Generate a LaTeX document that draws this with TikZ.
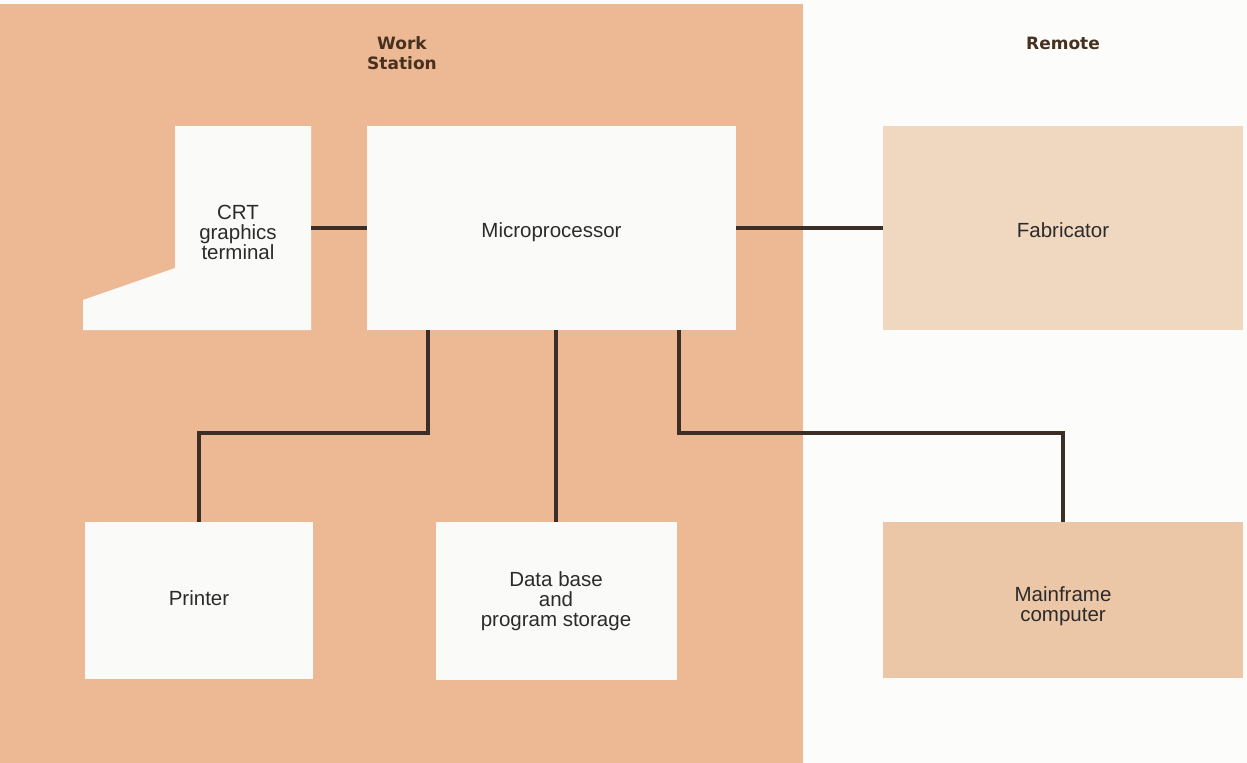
\documentclass[tikz,border=0pt]{standalone}
\usepackage{fontspec}
\setmainfont{Liberation Sans}
\newfontfamily\titlefont{DejaVu Sans}
\definecolor{panel}{HTML}{EDB994}
\definecolor{bgwhite}{HTML}{FCFDFA}
\definecolor{boxwhite}{HTML}{FAFBF8}
\definecolor{fabcol}{HTML}{F0D8C0}
\definecolor{mfcol}{HTML}{EBC7A8}
\definecolor{linecol}{HTML}{3B2E26}
\definecolor{txtcol}{HTML}{2B2B2B}
\definecolor{titlecol}{HTML}{47301F}
\tikzset{
  blk/.style={rectangle, draw=none, inner sep=0pt, align=center, text=txtcol,
    font=\fontsize{20.5bp}{20bp}\selectfont},
  wbox/.style={blk, fill=boxwhite},
  conn/.style={draw=linecol, line width=3.2bp, line join=miter},
  ttl/.style={align=center, text=titlecol, inner sep=0pt,
    font=\titlefont\bfseries\fontsize{17bp}{20bp}\selectfont}
}
\begin{document}
\begin{tikzpicture}[x=1bp,y=-1bp]
\useasboundingbox (0,0) rectangle (1247,763);
\fill[bgwhite] (0,0) rectangle (1247,763);
% work station panel
\fill[panel] (0,4) rectangle (803,763);
% titles
\node[ttl] (ws) at (402,53) {Work\\Station};
\node[ttl] (rem) at (1063,43) {Remote};
% CRT terminal shape
\fill[boxwhite] (175,126) -- (311,126) -- (311,330) -- (83,330) -- (83,300) -- (175,268) -- cycle;
\node[blk, minimum width=136bp, minimum height=204bp] (crt) at (243,228) {};
\node[blk] (crttxt) at (238,232) {CRT\\graphics\\terminal};
% boxes
\node[wbox, minimum width=369bp, minimum height=204bp] (mp) at (551.5,228) {};
\node[blk] (mptxt) at (551.5,232) {Microprocessor};
\node[blk, fill=fabcol, minimum width=360bp, minimum height=204bp] (fab) at (1063,228) {};
\node[blk] (fabtxt) at (1063,230.5) {Fabricator};
\node[wbox, minimum width=228bp, minimum height=157bp] (pr) at (199,600.5) {};
\node[blk] (prtxt) at (199,598) {Printer};
\node[wbox, minimum width=241bp, minimum height=158bp] (db) at (556,601) {Data base\\and\\program storage};
\node[blk, fill=mfcol, minimum width=360bp, minimum height=156bp] (mf) at (1063,600) {};
\node[blk] (mftxt) at (1063,606) {Mainframe\\computer};
% junctions
\coordinate (j1) at (428,433);
\coordinate (j2) at (679,433);
% connectors
\draw[conn] (crt.east) -- (mp.west);
\draw[conn] (mp.east) -- (fab.west);
\draw[conn] (mp.south -| j1) -- (j1) -| (pr.north);
\draw[conn] (db.north) -- (db.north |- mp.south);
\draw[conn] (mp.south -| j2) -- (j2) -| (mf.north);
\end{tikzpicture}
\end{document}
